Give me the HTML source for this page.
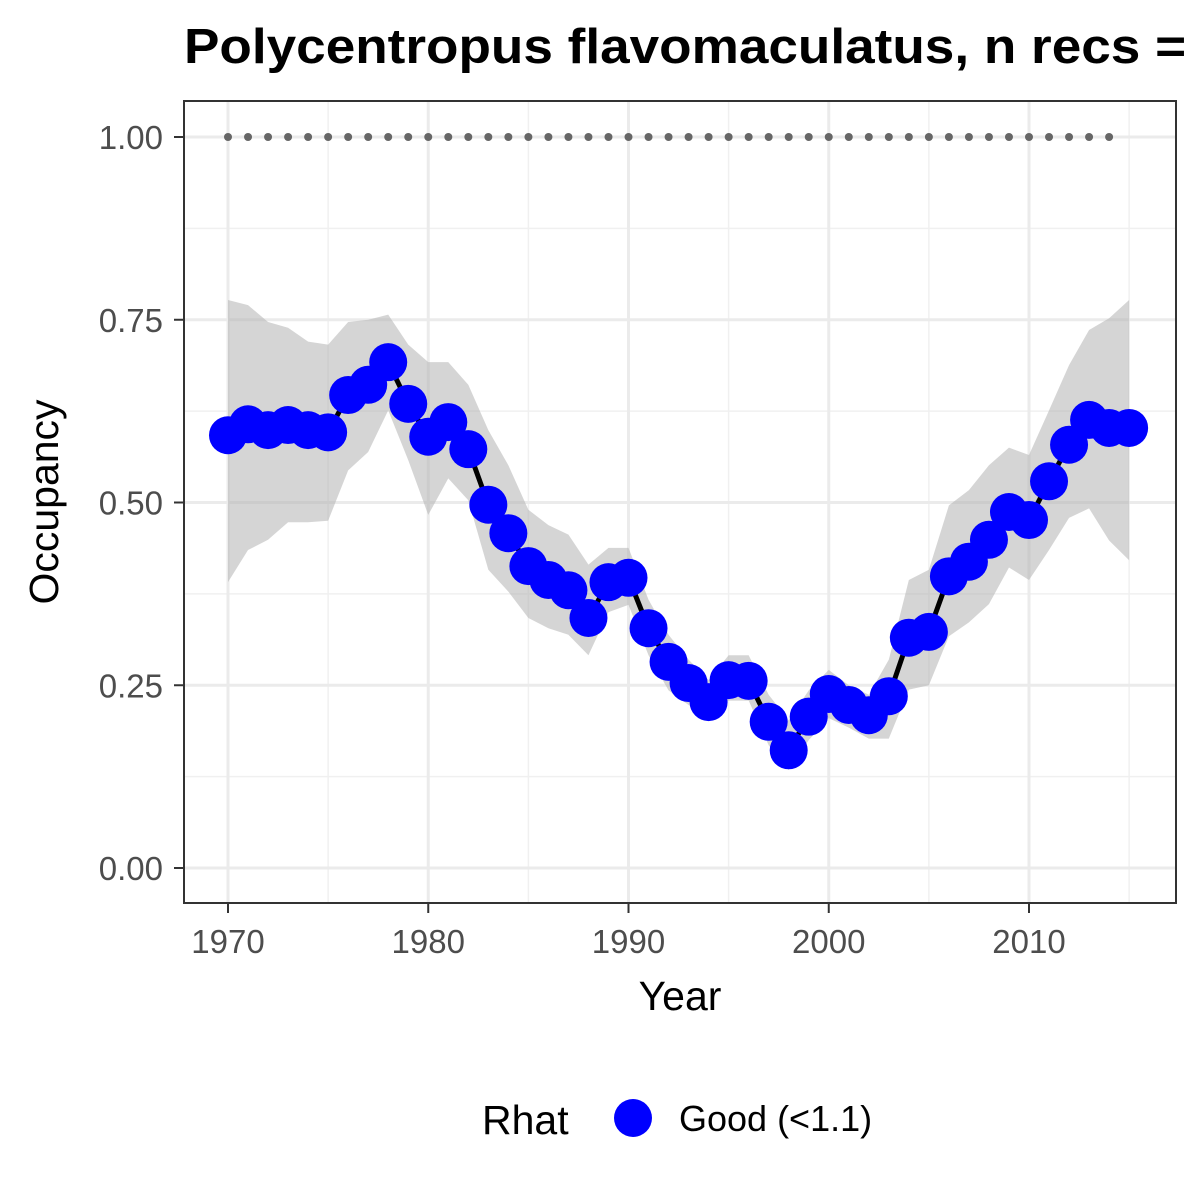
<!DOCTYPE html>
<html><head><meta charset="utf-8"><style>
html,body{margin:0;padding:0;background:#fff;width:1200px;height:1200px;overflow:hidden}
svg text{font-family:"Liberation Sans",Arial,sans-serif}
</style></head><body>
<svg id="chart" width="1200" height="1200" xmlns="http://www.w3.org/2000/svg">
<text x="184" y="63" font-size="49" font-weight="bold" fill="#000" textLength="1135" lengthAdjust="spacingAndGlyphs">Polycentropus flavomaculatus, n recs = 1234</text>
<rect x="184" y="101" width="992" height="802" fill="#fff"/>
<g id="grid"></g>
<g id="ribbon"></g>
<g id="ref"></g>
<g id="series"></g>
<rect x="184" y="101" width="992" height="802" fill="none" stroke="#333" stroke-width="2"/>
<g id="axes"></g>
<text x="680" y="1010" font-size="41" text-anchor="middle" fill="#000">Year</text>
<text transform="translate(58,502) rotate(-90)" font-size="41" text-anchor="middle" fill="#000">Occupancy</text>
<g>
<text x="482" y="1134" font-size="41" fill="#000">Rhat</text>
<circle cx="633" cy="1118" r="19" fill="#0000ff"/>
<text x="679" y="1131" font-size="36" fill="#000">Good (&lt;1.1)</text>
</g>
</svg>
<script>
const years=[1970,1971,1972,1973,1974,1975,1976,1977,1978,1979,1980,1981,1982,1983,1984,1985,1986,1987,1988,1989,1990,1991,1992,1993,1994,1995,1996,1997,1998,1999,2000,2001,2002,2003,2004,2005,2006,2007,2008,2009,2010,2011,2012,2013,2014,2015];
const occupancy=[0.592,0.607,0.599,0.606,0.599,0.596,0.647,0.661,0.692,0.635,0.590,0.610,0.573,0.497,0.458,0.413,0.394,0.380,0.342,0.391,0.397,0.328,0.282,0.253,0.227,0.257,0.256,0.200,0.161,0.207,0.238,0.223,0.209,0.235,0.315,0.323,0.399,0.419,0.449,0.487,0.476,0.529,0.579,0.613,0.602,0.602];
const upper=[0.777,0.770,0.747,0.739,0.720,0.716,0.747,0.750,0.757,0.716,0.692,0.692,0.661,0.599,0.551,0.490,0.469,0.456,0.415,0.438,0.438,0.367,0.319,0.285,0.257,0.291,0.291,0.237,0.202,0.243,0.271,0.250,0.237,0.285,0.394,0.408,0.496,0.517,0.551,0.575,0.565,0.626,0.688,0.736,0.752,0.777];
const lower=[0.391,0.435,0.449,0.473,0.473,0.475,0.544,0.569,0.626,0.558,0.483,0.533,0.503,0.408,0.378,0.342,0.328,0.319,0.291,0.350,0.360,0.291,0.243,0.223,0.209,0.229,0.229,0.168,0.134,0.175,0.205,0.192,0.177,0.177,0.244,0.250,0.317,0.336,0.361,0.411,0.394,0.435,0.479,0.492,0.448,0.421];
const refYears=[1970,1971,1972,1973,1974,1975,1976,1977,1978,1979,1980,1981,1982,1983,1984,1985,1986,1987,1988,1989,1990,1991,1992,1993,1994,1995,1996,1997,1998,1999,2000,2001,2002,2003,2004,2005,2006,2007,2008,2009,2010,2011,2012,2013,2014];
const refValue=1.0;
const xTicks=[1970,1980,1990,2000,2010];
const yTicks=[0,0.25,0.5,0.75,1.0];
const yTickLabels=["0.00","0.25","0.50","0.75","1.00"];

const NS="http://www.w3.org/2000/svg";
const X=v=>228+(v-1970)*(1029-228)/40;
const Y=v=>868-v*731;
function mk(tag,parent,attrs){const e=document.createElementNS(NS,tag);for(const k in attrs)e.setAttribute(k,attrs[k]);parent.appendChild(e);return e;}
const grid=document.getElementById('grid');
for(let i=0;i<yTicks.length-1;i++){const l=mk('line',grid,{x1:184,x2:1176,y1:Y((yTicks[i]+yTicks[i+1])/2),y2:Y((yTicks[i]+yTicks[i+1])/2),stroke:'#f0f0f0','stroke-width':1.5});}
for(let i=0;i<xTicks.length;i++){const l=mk('line',grid,{x1:X(xTicks[i]+5),x2:X(xTicks[i]+5),y1:101,y2:903,stroke:'#f0f0f0','stroke-width':1.5});}
yTicks.forEach(t=>{const l=mk('line',grid,{x1:184,x2:1176,y1:Y(t),y2:Y(t),stroke:'#ebebeb','stroke-width':3});});
xTicks.forEach(t=>{const l=mk('line',grid,{x1:X(t),x2:X(t),y1:101,y2:903,stroke:'#ebebeb','stroke-width':3});});
let d='';years.forEach((y,i)=>{d+=(i?'L':'M')+X(y)+','+Y(upper[i]);});
for(let i=years.length-1;i>=0;i--)d+='L'+X(years[i])+','+Y(lower[i]);
const rib=mk('path',document.getElementById('ribbon'),{d:d+'Z',fill:'#b3b3b3','fill-opacity':0.55});


const ref=document.getElementById('ref');
refYears.forEach(y=>{const c=mk('circle',ref,{cx:X(y),cy:Y(refValue),r:4,fill:'#666'});});
const ser=document.getElementById('series');
const pl=mk('polyline',ser,{points:years.map((y,i)=>X(y)+','+Y(occupancy[i])).join(' '),fill:'none',stroke:'#000','stroke-width':5});


years.forEach((y,i)=>{const c=mk('circle',ser,{cx:X(y),cy:Y(occupancy[i]),r:19,fill:'#0000ff'});});
const ax=document.getElementById('axes');
yTicks.forEach((t,i)=>{const l=mk('line',ax,{x1:174,x2:184,y1:Y(t),y2:Y(t),stroke:'#333','stroke-width':2});
const tx=mk('text',ax,{x:163,y:Y(t)+12,'font-size':33,'text-anchor':'end',fill:'#4d4d4d'});tx.textContent=yTickLabels[i];});
xTicks.forEach(t=>{const l=mk('line',ax,{x1:X(t),x2:X(t),y1:903,y2:913,stroke:'#333','stroke-width':2});
const tx=mk('text',ax,{x:X(t),y:953,'font-size':33,'text-anchor':'middle',fill:'#4d4d4d'});tx.textContent=String(t);});
</script>
</body></html>
